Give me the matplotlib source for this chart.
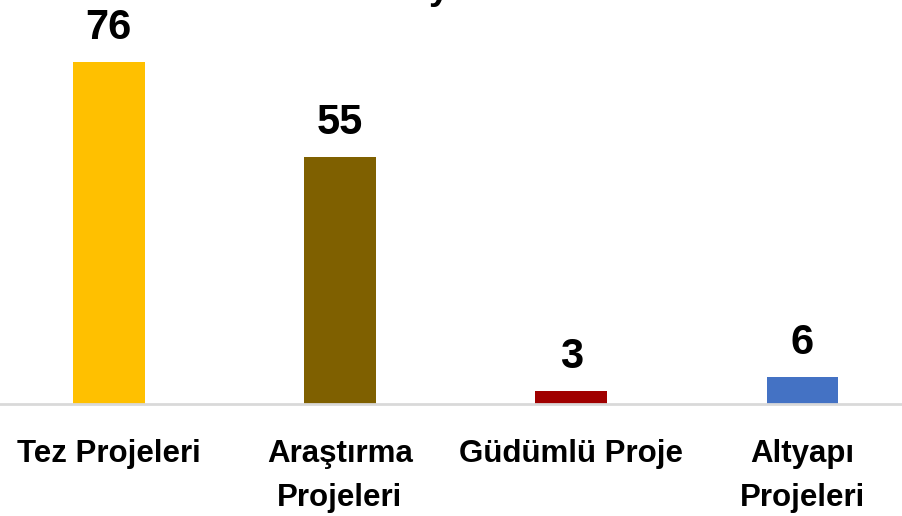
import numpy as np
import matplotlib.pyplot as plt

# proje sayilari
kategoriler = ['Tez Projeleri', 'Araştırma\nProjeleri', 'Güdümlü Proje', 'Altyapı\nProjeleri']
sayilar = [76, 55, 3, 6]
renkler = ['#FFC000', '#7F6000', '#A00000', '#4472C4']

plt.rcParams['font.family'] = ['Liberation Sans', 'DejaVu Sans']

fig = plt.figure(figsize=(9.02, 5.16), dpi=100)
ax = fig.add_axes([0, 0.217, 1, 0.783])

x = np.arange(len(kategoriler))
bars = ax.bar(x, sayilar, width=0.31, color=renkler, zorder=2)

for b, v in zip(bars, sayilar):
    ax.annotate(str(v), (b.get_x() + b.get_width() / 2, v),
                xytext=(0, 10), textcoords='offset points',
                ha='center', va='bottom', fontsize=30, fontweight='bold')

ax.set_xlim(-0.47, 3.43)
ax.set_ylim(0, 89.8)
ax.set_xticks(x)
ax.set_xticklabels(kategoriler, fontsize=22.5, fontweight='bold', linespacing=1.6)
ax.tick_params(axis='x', length=0, pad=25)
ax.set_yticks([])
for s in ['top', 'left', 'right']:
    ax.spines[s].set_visible(False)
ax.spines['bottom'].set_color('#d9d9d9')
ax.spines['bottom'].set_linewidth(2)

# basligin yalnizca alt kismi gorunuyor
fig.text(0.5, 1.022, 'Sayıları', ha='center', va='center', fontsize=27, fontweight='bold')

fig.savefig('out.png', dpi=100)
